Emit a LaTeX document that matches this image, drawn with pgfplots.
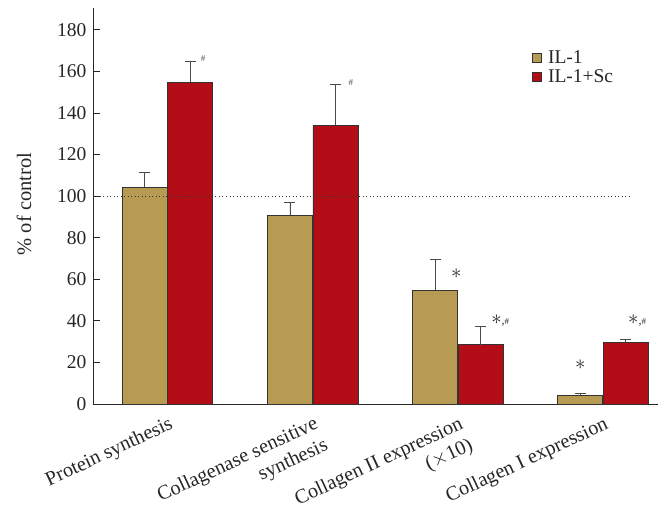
\documentclass[border=0pt]{standalone}
\usepackage{pgfplots}
\pgfplotsset{compat=1.18}
\usepackage{pgfplotstable}
\usepackage{fontspec}
\setmainfont{Liberation Serif}

\definecolor{iltan}{HTML}{B89B52}
\definecolor{ilred}{HTML}{B30E18}
\definecolor{edgegray}{HTML}{333333}
\definecolor{errgray}{HTML}{4A4A4A}

% group  value  upper error
\pgfplotstableread{
x   y      e
0   104.3  6.9
1   90.8   6.1
2   54.8   14.8
3   4.3    0.6
}\ilone
\pgfplotstableread{
x   y      e
0   154.8  9.9
1   134.0  19.6
2   28.6   8.8
3   29.5   1.6
}\ilsc

\newcommand{\sig}{{\fontsize{21}{21}\selectfont$\ast$}}
\newcommand{\hashmark}{{\fontsize{9}{9}\selectfont\#}}
\newcommand{\sighash}{\sig{\fontsize{12}{12}\selectfont,}\hashmark}

\begin{document}
\begin{tikzpicture}
\begin{axis}[
  width=565pt, height=396pt, scale only axis,
  xmin=-0.514, xmax=3.38, ymin=0, ymax=190.5,
  axis x line=bottom, axis y line=left,
  axis line style={-, line width=0.9pt, color=black!85},
  clip=false,
  ybar=0.5pt, bar width=45pt,
  ytick={0,20,...,180},
  tick align=inside, major tick length=7pt,
  ytick style={line width=0.9pt, color=black!85},
  xtick={0,1,2,3},
  xtick style={draw=none},
  xticklabels={Protein synthesis, {Collagenase sensitive\\synthesis}, {Collagen II expression\\($\times$10)}, Collagen I expression},
  xticklabel style={rotate=25, anchor=north east, align=right, xshift=-1pt, yshift=-7pt, font=\fontsize{20.2}{23.5}\selectfont, text=black!85},
  yticklabel style={font=\fontsize{19.5}{21}\selectfont, text=black!85, xshift=-3pt},
  /pgf/number format/assume math mode=true,
  ylabel={\% of control},
  every axis y label/.style={at={(axis description cs:-0.103,0.505)}, rotate=90, anchor=south, font=\fontsize{20.5}{22}\selectfont, text=black!85},
  legend style={at={(0.777,0.897)}, anchor=north west, draw=none, fill=none,
    font=\fontsize{19.5}{21}\selectfont, text=black!85,
    row sep=2pt, inner sep=0pt, legend cell align=left,
    nodes={inner xsep=6pt, inner ysep=1.5pt}},
  legend image code/.code={\draw[#1, line width=0.8pt] (0pt,-4.5pt) rectangle (9pt,4.5pt);},
]
\addplot+[fill=iltan, draw=edgegray, line width=0.8pt,
  error bars/.cd, y dir=plus, y explicit,
  error bar style={color=errgray, line width=0.8pt},
  error mark options={rotate=90, mark size=5.5pt, line width=0.8pt, color=errgray}]
  table[x=x, y=y, y error=e]{\ilone};
\addplot+[fill=ilred, draw=edgegray, line width=0.8pt,
  error bars/.cd, y dir=plus, y explicit,
  error bar style={color=errgray, line width=0.8pt},
  error mark options={rotate=90, mark size=5.5pt, line width=0.8pt, color=errgray}]
  table[x=x, y=y, y error=e]{\ilsc};
\legend{IL-1, IL-1+Sc}

% reference level of 100 %
\draw[black!80, line width=0.7pt, dash pattern=on 0.9pt off 2.6pt]
  (axis cs:-0.514,100) -- (axis cs:3.18,100);

% significance marks
\node[text=black!70] at (axis cs:0.245,166) {\hashmark};
\node[text=black!70] at (axis cs:1.263,154.5) {\hashmark};
\node[text=black!85] at (axis cs:1.99,62.9) {\sig};
\node[text=black!85] at (axis cs:2.293,40) {\sighash};
\node[text=black!85] at (axis cs:2.845,18.9) {\sig};
\node[text=black!85] at (axis cs:3.236,40) {\sighash};
\end{axis}
% page frame: axis corner sits 93pt from the left and 105pt above the bottom
\pgfresetboundingbox
\path (current axis.south west) ++(-93pt,-105pt) rectangle ++(661pt,509pt);
\end{tikzpicture}
\end{document}
